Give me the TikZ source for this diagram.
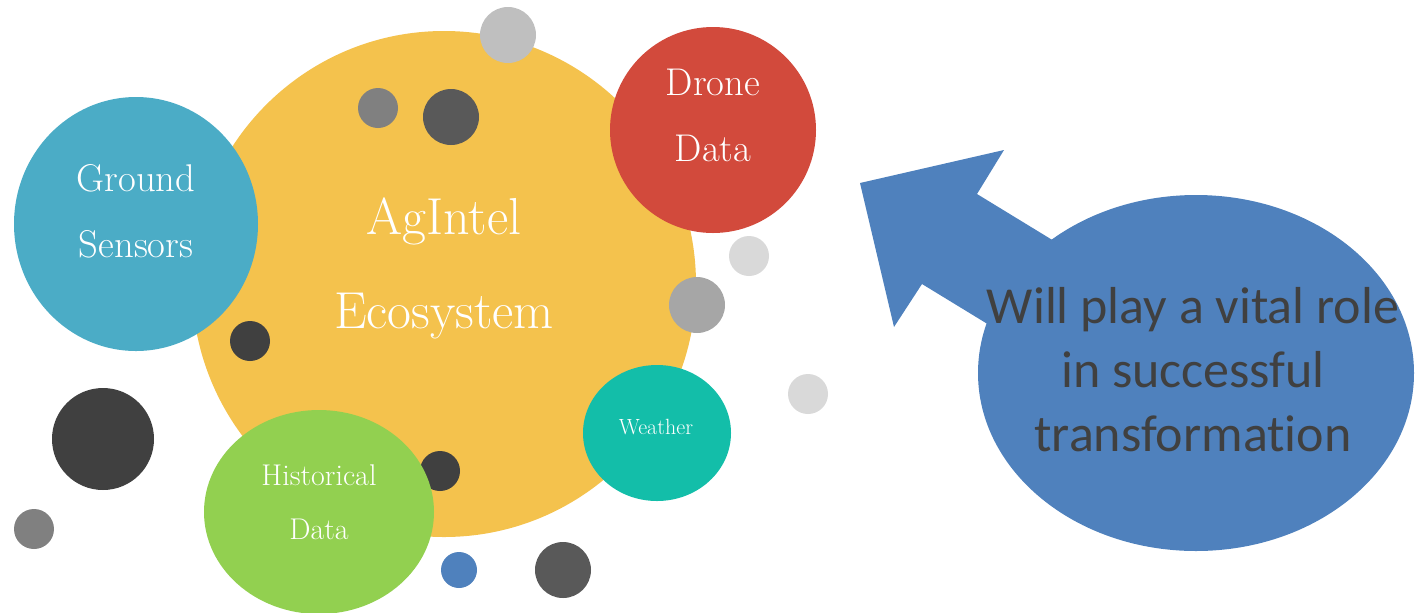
\documentclass[tikz,border=0pt]{standalone}
\usepackage{fontspec}
\newfontfamily\calibrifont[Ligatures=NoCommon]{Carlito}
\usepackage{tikz}
\usetikzlibrary{
    positioning,           % Relative positioning
    shapes.geometric       % Ellipses
}

\definecolor{hubyellow}{HTML}{F4C24D}
\definecolor{groundblue}{HTML}{4BACC6}
\definecolor{dronered}{HTML}{D24A3C}
\definecolor{histgreen}{HTML}{92D050}
\definecolor{weatherteal}{HTML}{13BEA9}
\definecolor{calloutblue}{HTML}{4F81BD}
\definecolor{greyA}{HTML}{BFBFBF}
\definecolor{greyB}{HTML}{808080}
\definecolor{greyC}{HTML}{595959}
\definecolor{greyD}{HTML}{404040}
\definecolor{greyE}{HTML}{A6A6A6}
\definecolor{greyF}{HTML}{D9D9D9}

\tikzset{
    lbl/.style={text=white, align=center, inner sep=0pt, anchor=base},
    calltext/.style={text=greyD, align=center, inner sep=0pt, anchor=base,
        font=\calibrifont\fontsize{39pt}{48pt}\selectfont}
}

\begin{document}
\begin{tikzpicture}[x=0.75pt, y=-0.75pt]
    \useasboundingbox (0,0) rectangle (1425,612);

    % Central ecosystem bubble
    \fill[hubyellow] (444,284) ellipse (252 and 253);

    % Small dots
    \fill[greyA] (508,35) circle (28);
    \fill[greyB] (378,108) circle (20);
    \fill[greyC] (451,117) circle (28);
    \fill[greyD] (250,341) circle (20);
    \fill[greyD] (103,439) circle (51);
    \fill[greyB] (34,529) circle (20);
    \fill[greyD] (440,471) circle (20);
    \fill[calloutblue] (459,570) circle (18);
    \fill[greyC] (563,570) circle (28);
    \fill[greyE] (697,305) circle (28);
    \fill[greyF] (749,256) circle (20);
    \fill[greyF] (808,394) circle (20);

    % Data source bubbles
    \fill[groundblue] (136,224) ellipse (122 and 127);
    \fill[dronered] (713,130) ellipse (103 and 103);
    \fill[weatherteal] (657,433) ellipse (74 and 68);
    \fill[histgreen] (319,512) ellipse (115 and 102);

    % Labels (base = last line)
    \node[lbl, font=\fontsize{39pt}{70pt}\selectfont] (hub) at (444,328)
        {AgIntel\\Ecosystem};
    \node[lbl, font=\fontsize{29pt}{49.5pt}\selectfont] (ground) at (136,257)
        {Ground\\Sensors};
    \node[lbl, font=\fontsize{29pt}{49pt}\selectfont] (drone) at (713,161)
        {Drone\\Data};
    \node[lbl, font=\fontsize{16.5pt}{18pt}\selectfont] (weather) at (656,434)
        {Weather};
    \node[lbl, font=\fontsize{22.5pt}{40.5pt}\selectfont] (hist) at (319,539)
        {Historical\\Data};

    % Callout with arrow
    \fill[calloutblue] (860,183) -- (1004,150) -- (977,194) -- (1190,324)
        -- (1135,414) -- (922,284) -- (894,327) -- cycle;
    \fill[calloutblue] (1196,373) ellipse (218 and 178);
    \node[calltext] (role) at (1193,451)
        {Will play a vital role\\in successful\\transformation};
\end{tikzpicture}
\end{document}
